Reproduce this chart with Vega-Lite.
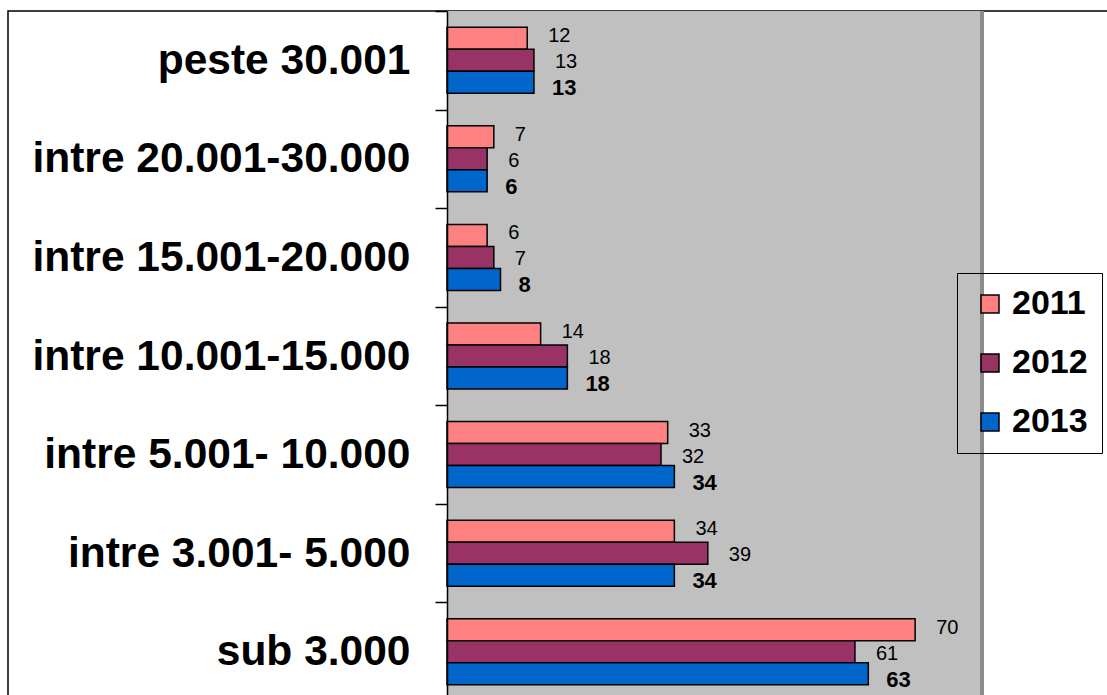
{
  "$schema": "https://vega.github.io/schema/vega-lite/v6.json",
  "width": 1100,
  "height": 690,
  "autosize": {"type": "none"},
  "padding": {"left": 8, "top": 11, "right": 0, "bottom": 0},
  "background": "white",
  "config": {
    "view": {"stroke": "black", "strokeWidth": 1.5},
    "font": "Liberation Sans"
  },
  "data": {
    "values": [
      {"cat": "peste 30.001", "year": "2011", "value": 12},
      {"cat": "peste 30.001", "year": "2012", "value": 13},
      {"cat": "peste 30.001", "year": "2013", "value": 13},
      {"cat": "intre 20.001-30.000", "year": "2011", "value": 7},
      {"cat": "intre 20.001-30.000", "year": "2012", "value": 6},
      {"cat": "intre 20.001-30.000", "year": "2013", "value": 6},
      {"cat": "intre 15.001-20.000", "year": "2011", "value": 6},
      {"cat": "intre 15.001-20.000", "year": "2012", "value": 7},
      {"cat": "intre 15.001-20.000", "year": "2013", "value": 8},
      {"cat": "intre 10.001-15.000", "year": "2011", "value": 14},
      {"cat": "intre 10.001-15.000", "year": "2012", "value": 18},
      {"cat": "intre 10.001-15.000", "year": "2013", "value": 18},
      {"cat": "intre 5.001- 10.000", "year": "2011", "value": 33},
      {"cat": "intre 5.001- 10.000", "year": "2012", "value": 32},
      {"cat": "intre 5.001- 10.000", "year": "2013", "value": 34},
      {"cat": "intre 3.001- 5.000", "year": "2011", "value": 34},
      {"cat": "intre 3.001- 5.000", "year": "2012", "value": 39},
      {"cat": "intre 3.001- 5.000", "year": "2013", "value": 34},
      {"cat": "sub 3.000", "year": "2011", "value": 70},
      {"cat": "sub 3.000", "year": "2012", "value": 61},
      {"cat": "sub 3.000", "year": "2013", "value": 63}
    ]
  },
  "layer": [
    {
      "mark": {"type": "rect", "fill": "#C0C0C0"},
      "encoding": {
        "x": {"datum": 0, "type": "quantitative", "scale": {"domain": [0, 80], "range": [439, 974], "nice": false, "zero": true}, "axis": null},
        "x2": {"datum": 80}
      }
    },
    {
      "mark": {"type": "rule", "color": "#8c8c8c", "strokeWidth": 2.5},
      "encoding": {
        "x": {"datum": 80, "type": "quantitative"}
      }
    },
    {
      "mark": {"type": "bar", "stroke": "black", "strokeWidth": 1.5},
      "encoding": {
        "y": {
          "field": "cat", "type": "nominal", "sort": null,
          "scale": {"paddingInner": 0, "paddingOuter": 0},
          "axis": {
            "title": null, "offset": -439, "domainColor": "black", "domainWidth": 1.5,
            "tickColor": "black", "tickWidth": 1.5, "tickSize": 12, "tickBand": "extent",
            "labelFontSize": 42.5, "labelFontWeight": "bold", "labelColor": "black",
            "labelPadding": 25, "labelLimit": 600, "zindex": 1
          }
        },
        "yOffset": {"field": "year", "type": "nominal", "scale": {"domain": ["2011", "2012", "2013"], "paddingInner": 0, "paddingOuter": 0.74}},
        "x": {"field": "value", "type": "quantitative"},
        "color": {
          "field": "year", "type": "nominal",
          "scale": {"domain": ["2011", "2012", "2013"], "range": ["#FF8080", "#993366", "#0066CC"]},
          "legend": {
            "orient": "none", "legendX": 949, "legendY": 262, "title": null,
            "symbolType": "square", "symbolSize": 324, "symbolStrokeColor": "black", "symbolStrokeWidth": 1.5,
            "symbolOffset": 2, "labelFontSize": 34, "labelFontWeight": "bold", "labelColor": "black",
            "labelOffset": 5, "rowPadding": 25, "padding": 14, "strokeColor": "black", "labelLimit": 400,
            "labelExpr": "datum.label + '\u00a0\u00a0\u00a0\u00a0\u00a0\u00a0\u00a0\u00a0\u00a0\u00a0\u00a0\u00a0'"
          }
        }
      }
    },
    {
      "transform": [{"filter": "datum.year == '2011'"}],
      "mark": {"type": "text", "align": "left", "baseline": "middle", "dx": 21, "dy": -2, "fontSize": 20, "color": "black"},
      "encoding": {
        "y": {"field": "cat", "type": "nominal", "sort": null},
        "yOffset": {"field": "year", "type": "nominal"},
        "x": {"field": "value", "type": "quantitative"},
        "text": {"field": "value", "type": "quantitative"}
      }
    },
    {
      "transform": [{"filter": "datum.year == '2012'"}],
      "mark": {"type": "text", "align": "left", "baseline": "middle", "dx": 21, "dy": 2, "fontSize": 20, "color": "black"},
      "encoding": {
        "y": {"field": "cat", "type": "nominal", "sort": null},
        "yOffset": {"field": "year", "type": "nominal"},
        "x": {"field": "value", "type": "quantitative"},
        "text": {"field": "value", "type": "quantitative"}
      }
    },
    {
      "transform": [{"filter": "datum.year == '2013'"}],
      "mark": {"type": "text", "align": "left", "baseline": "middle", "dx": 18, "dy": 6, "fontSize": 22, "fontWeight": "bold", "color": "black"},
      "encoding": {
        "y": {"field": "cat", "type": "nominal", "sort": null},
        "yOffset": {"field": "year", "type": "nominal"},
        "x": {"field": "value", "type": "quantitative"},
        "text": {"field": "value", "type": "quantitative"}
      }
    }
  ]
}
